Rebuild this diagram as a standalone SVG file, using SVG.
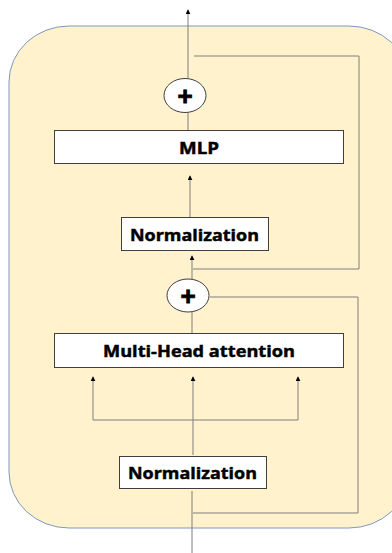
<svg xmlns="http://www.w3.org/2000/svg" width="392" height="553" viewBox="0 0 392 553">
<style>
.box{fill:#ffffff;stroke:#3f3f3f;stroke-width:1}
.lbl{font-family:"Open Sans","Liberation Sans",sans-serif;font-weight:bold;fill:#000;stroke:#000;stroke-width:0.45;text-anchor:middle}
.add{fill:#ffffff;stroke:#3f3f3f;stroke-width:1}
.plus{font-family:"Liberation Sans",sans-serif;font-weight:bold;font-size:26px;fill:#000;stroke:#000;stroke-width:0.8;text-anchor:middle}
.ln{fill:none;stroke:#7f7f7f;stroke-width:1}
.arr{fill:none;stroke:#7f7f7f;stroke-width:1;marker-end:url(#ah)}
</style>
<defs>
<marker id="ah" viewBox="0 0 6 6" refX="5" refY="3" markerWidth="5" markerHeight="5" orient="auto" markerUnits="userSpaceOnUse">
<path d="M0,0 L6,3 L0,6 Z" fill="#000"/>
</marker>
</defs>
<g id="container">
<rect x="9" y="26" width="400" height="502" rx="60" ry="56" fill="#fff2cc" stroke="#7f97c2" stroke-width="1"/>
</g>
<g id="connectors">
<line class="arr" x1="188" y1="78" x2="188" y2="10"/>
<polyline class="ln" points="194,56 359,56 359,269 193,269"/>
<line class="ln" x1="188" y1="113" x2="188" y2="130"/>
<line class="arr" x1="190" y1="217" x2="190" y2="176"/>
<line class="arr" x1="192" y1="279" x2="192" y2="256"/>
<polyline class="ln" points="210,297 358,297 358,513 193,513"/>
<line class="ln" x1="192" y1="312" x2="192" y2="333"/>
<polyline class="ln" points="93,420 298,420"/>
<line class="arr" x1="93" y1="420" x2="93" y2="377"/>
<line class="arr" x1="193" y1="455" x2="193" y2="377"/>
<line class="arr" x1="298" y1="420" x2="298" y2="377"/>
<line class="ln" x1="192" y1="491" x2="192" y2="553"/>
</g>
<g id="add-top">
<ellipse class="add" cx="185" cy="95.5" rx="21" ry="17"/>
<text class="plus" x="185" y="104.5">+</text>
</g>
<g id="mlp">
<rect class="box" x="54.5" y="130.5" width="289" height="33"/>
<text class="lbl" x="199" y="153.5" font-size="16" textLength="40" lengthAdjust="spacingAndGlyphs">MLP</text>
</g>
<g id="norm-top">
<rect class="box" x="121.5" y="217.5" width="147" height="33"/>
<text class="lbl" x="194.5" y="240.5" font-size="16" textLength="129" lengthAdjust="spacingAndGlyphs">Normalization</text>
</g>
<g id="add-bottom">
<ellipse class="add" cx="188" cy="295.5" rx="21" ry="16.5"/>
<text class="plus" x="188" y="304.5">+</text>
</g>
<g id="mha">
<rect class="box" x="54.5" y="333.5" width="289" height="34"/>
<text class="lbl" x="199" y="357" font-size="16" textLength="192" lengthAdjust="spacingAndGlyphs">Multi-Head attention</text>
</g>
<g id="norm-bottom">
<rect class="box" x="119.5" y="456.5" width="147" height="32"/>
<text class="lbl" x="192.5" y="478.5" font-size="16" textLength="129" lengthAdjust="spacingAndGlyphs">Normalization</text>
</g>
</svg>
